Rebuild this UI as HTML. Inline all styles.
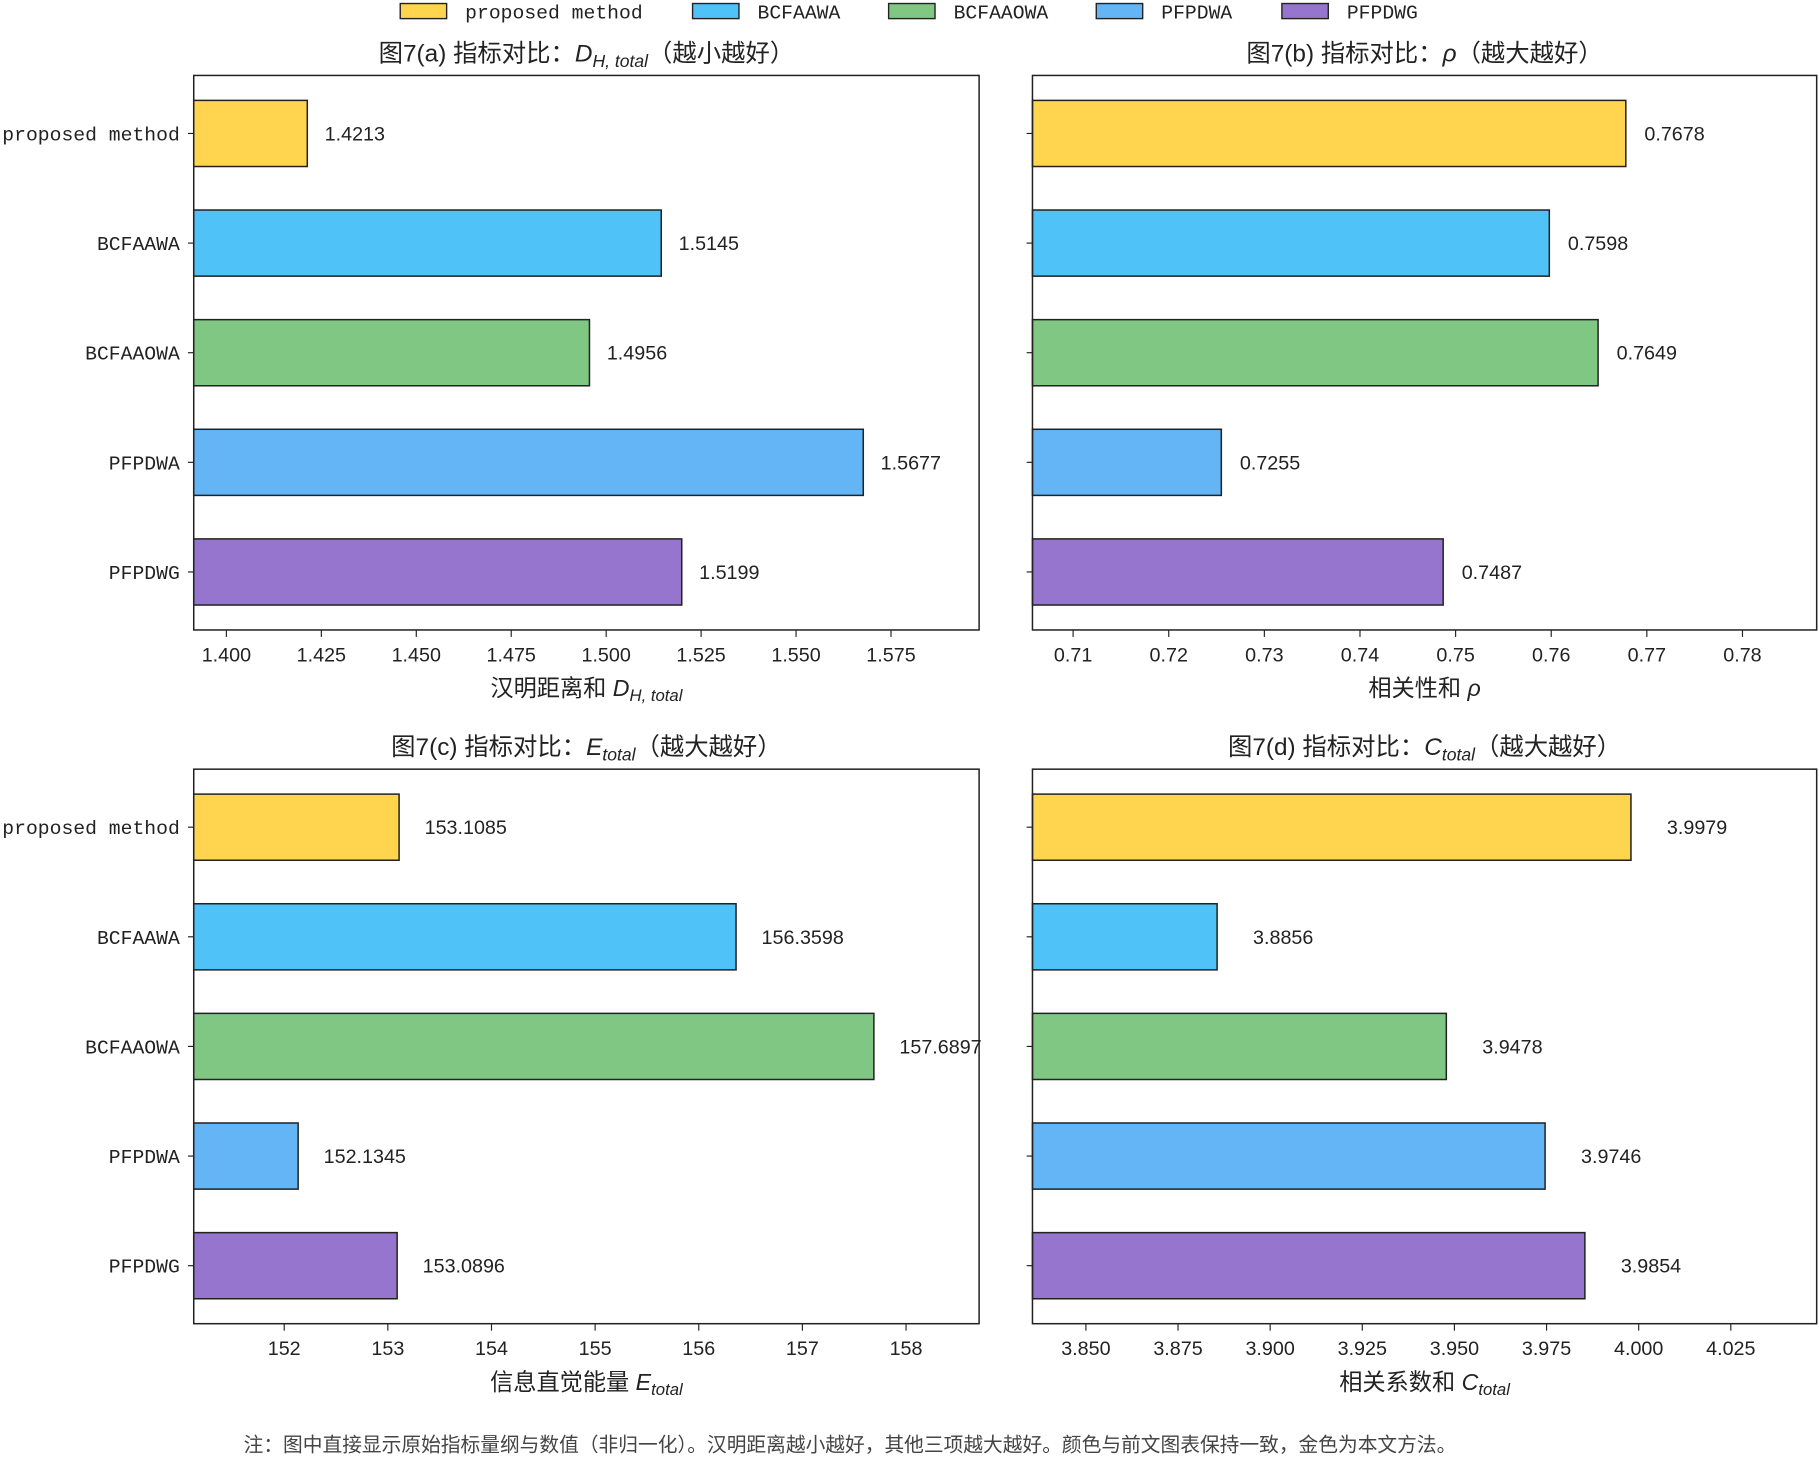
<!DOCTYPE html>
<html><head><meta charset="utf-8"><style>
html,body{margin:0;padding:0;background:#fff;}
svg{display:block;font-family:"Liberation Sans","Noto Sans CJK SC",sans-serif;}
.mono{font-family:"Liberation Mono","Noto Sans CJK SC",monospace;}
</style></head><body>
<svg id="chart" width="1819" height="1459" viewBox="0 0 1568 1257.6" xmlns="http://www.w3.org/2000/svg"></svg>
<script>
const categories = ["proposed method","BCFAAWA","BCFAAOWA","PFPDWA","PFPDWG"];
const colors = ["#FFD54F","#4FC3F7","#81C784","#64B5F6","#9575CD"];
const valuesA = [1.4213,1.5145,1.4956,1.5677,1.5199];
const valuesB = [0.7678,0.7598,0.7649,0.7255,0.7487];
const valuesC = [153.1085,156.3598,157.6897,152.1345,153.0896];
const valuesD = [3.9979,3.8856,3.9478,3.9746,3.9854];
const labelsA = ["1.4213","1.5145","1.4956","1.5677","1.5199"];
const labelsB = ["0.7678","0.7598","0.7649","0.7255","0.7487"];
const labelsC = ["153.1085","156.3598","157.6897","152.1345","153.0896"];
const labelsD = ["3.9979","3.8856","3.9478","3.9746","3.9854"];
const ticksA = [1.400,1.425,1.450,1.475,1.500,1.525,1.550,1.575];
const ticksB = [0.71,0.72,0.73,0.74,0.75,0.76,0.77,0.78];
const ticksC = [152,153,154,155,156,157,158];
const ticksD = [3.850,3.875,3.900,3.925,3.950,3.975,4.000,4.025];

const NS="http://www.w3.org/2000/svg";
const svg=document.getElementById('chart');
function mk(tag,attrs,parent){const e=document.createElementNS(NS,tag);for(const k in attrs)e.setAttribute(k,attrs[k]);(parent||svg).appendChild(e);return e;}

const panels=[
 {id:'a',x0:167,x1:844,y0:65,y1:543,dmin:1.3914,dmax:1.5982,vals:valuesA,labs:labelsA,ticks:ticksA,dec:3,off:15,
  title:['图7(a) 指标对比：','D','H, total','（越小越好）'],xl:['汉明距离和 ','D','H, total'],ylab:true},
 {id:'b',x0:890,x1:1566,y0:65,y1:543,dmin:0.70575,dmax:0.78776,vals:valuesB,labs:labelsB,ticks:ticksB,dec:2,off:16,
  title:['图7(b) 指标对比：','ρ','','（越大越好）'],xl:['相关性和 ','ρ',''],ylab:false},
 {id:'c',x0:167,x1:844,y0:663,y1:1141,dmin:151.127,dmax:158.705,vals:valuesC,labs:labelsC,ticks:ticksC,dec:0,off:22,
  title:['图7(c) 指标对比：','E','total','（越大越好）'],xl:['信息直觉能量 ','E','total'],ylab:true},
 {id:'d',x0:890,x1:1566,y0:663,y1:1141,dmin:3.8355,dmax:4.0483,vals:valuesD,labs:labelsD,ticks:ticksD,dec:3,off:31,
  title:['图7(d) 指标对比：','C','total','（越大越好）'],xl:['相关系数和 ','C','total'],ylab:false}
];

function richText(parts,x,y,size,g){
  const t=mk('text',{x:x,y:y,'font-size':size,'text-anchor':'middle',fill:'#222'},g);
  const a=document.createElementNS(NS,'tspan');a.textContent=parts[0];t.appendChild(a);
  const b=document.createElementNS(NS,'tspan');b.setAttribute('font-style','italic');b.textContent=parts[1];t.appendChild(b);
  if(parts[2]){const c=document.createElementNS(NS,'tspan');c.setAttribute('font-style','italic');c.setAttribute('font-size',size*0.72);c.setAttribute('dy',size*0.22);c.textContent=parts[2];t.appendChild(c);}
  if(parts[3]){const d=document.createElementNS(NS,'tspan');if(parts[2])d.setAttribute('dy',-size*0.22);d.textContent=parts[3];t.appendChild(d);}
  return t;
}

panels.forEach(p=>{
  const g=mk('g',{});
  
  
  const sx=v=>p.x0+(v-p.dmin)/(p.dmax-p.dmin)*(p.x1-p.x0);
  const cy=i=>p.y0+50+i*94.5;
  const bh=57;
  const title=richText(p.title,(p.x0+p.x1)/2,p.y0-12,21,g);
  
  
  p.vals.forEach((v,i)=>{
    const r=mk('rect',{x:p.x0,y:cy(i)-bh/2,width:sx(v)-p.x0,height:bh,fill:colors[i],stroke:'#222','stroke-width':1.3},g);
    
    
    const t=mk('text',{x:sx(v)+p.off,y:cy(i)+6,'font-size':17,fill:'#222'},g);
    t.textContent=p.labs[i];
    
    
    mk('line',{x1:p.x0-5,x2:p.x0,y1:cy(i),y2:cy(i),stroke:'#222','stroke-width':1},g);
    if(p.ylab){
      const yl=mk('text',{x:p.x0-12,y:cy(i)+6,'font-size':17,'text-anchor':'end',fill:'#222','class':'mono'},g);
      yl.textContent=categories[i];
      
      
    }
  });
  const fr=mk('rect',{x:p.x0,y:p.y0,width:p.x1-p.x0,height:p.y1-p.y0,fill:'none',stroke:'#222','stroke-width':1.3},g);
  
  
  p.ticks.forEach(tv=>{
    const x=sx(tv);
    mk('line',{x1:x,x2:x,y1:p.y1,y2:p.y1+6,stroke:'#222','stroke-width':1},g);
    const tl=mk('text',{x:x,y:p.y1+27,'font-size':17,'text-anchor':'middle',fill:'#222'},g);
    tl.textContent=tv.toFixed(p.dec);
    
    
  });
  const xl=richText(p.xl,(p.x0+p.x1)/2,p.y1+57,20,g);
  
  
});

const legX=[345,597,766,945,1105];
const lg=mk('g',{});


categories.forEach((c,i)=>{
  const r=mk('rect',{x:legX[i],y:3,width:40,height:13,fill:colors[i],stroke:'#222','stroke-width':1.2},lg);
  
  
  const t=mk('text',{x:legX[i]+56,y:16,'font-size':17,fill:'#222','class':'mono'},lg);
  t.textContent=c;
  
  
});

const note=mk('text',{x:210,y:1251,'font-size':17,fill:'#444'});
note.textContent='注：图中直接显示原始指标量纲与数值（非归一化）。汉明距离越小越好，其他三项越大越好。颜色与前文图表保持一致，金色为本文方法。';


</script>
</body></html>
